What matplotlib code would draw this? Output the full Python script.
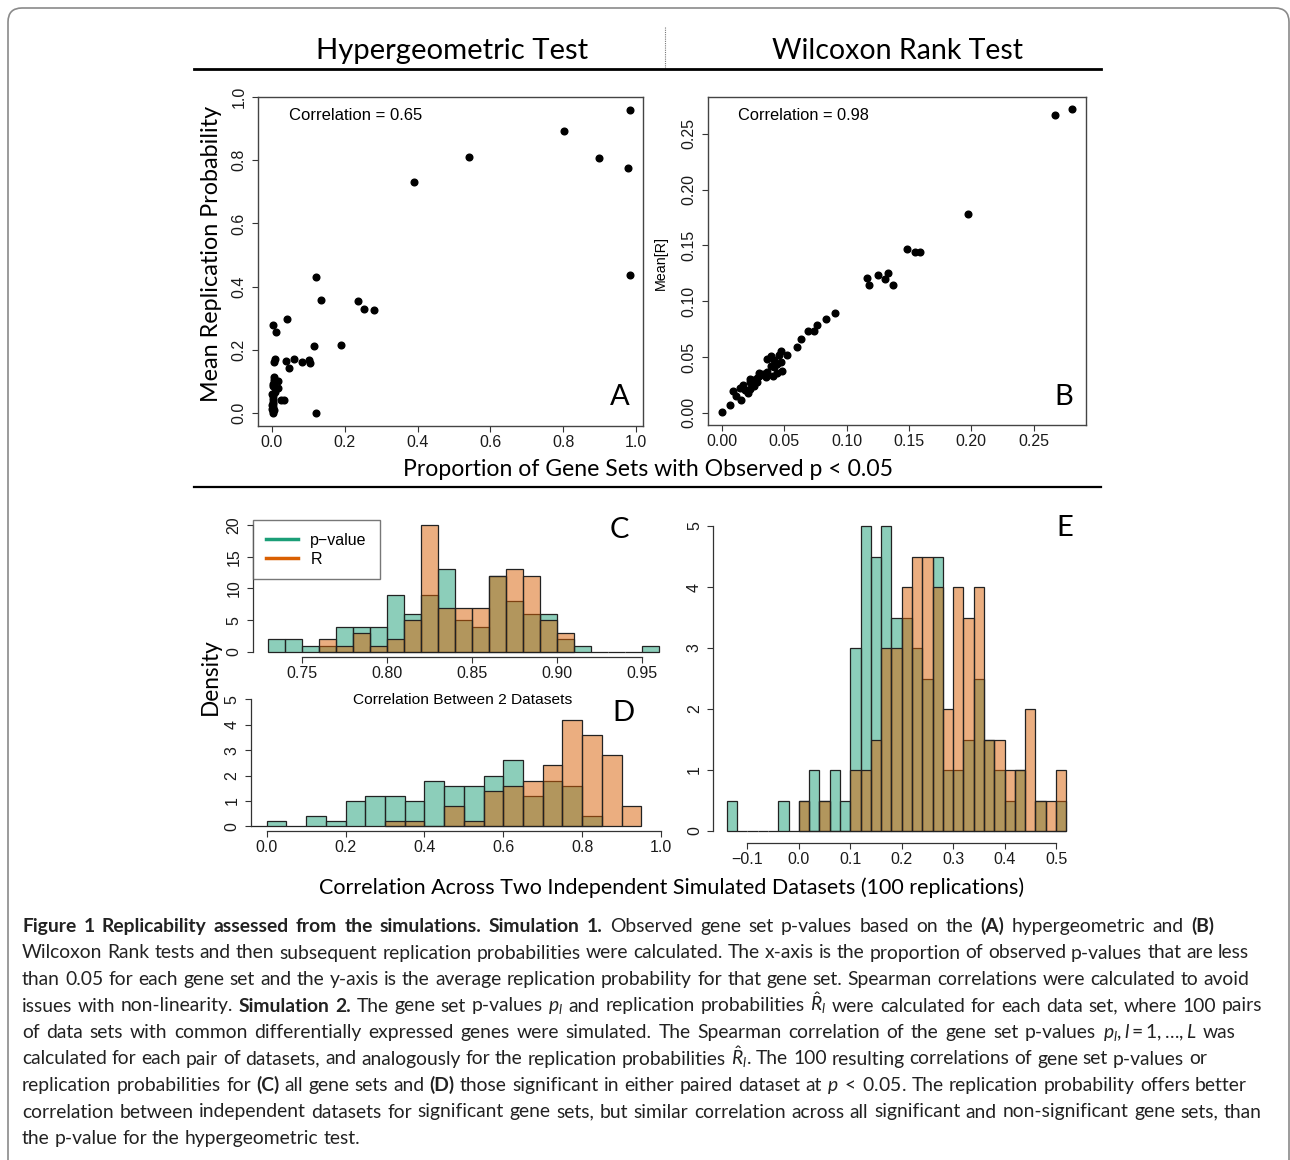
import matplotlib
matplotlib.use('Agg')
import matplotlib.pyplot as plt
import numpy as np
from matplotlib.patches import FancyBboxPatch
from matplotlib.lines import Line2D
from matplotlib.transforms import IdentityTransform

plt.rcParams['font.family'] = ['Liberation Sans', 'DejaVu Sans']
plt.rcParams['mathtext.fontset'] = 'custom'
plt.rcParams['mathtext.rm'] = 'Lato'
plt.rcParams['mathtext.it'] = 'Lato:italic'
plt.rcParams['mathtext.bf'] = 'Lato:bold'

# ---------------- data ----------------
# A: hypergeometric test, proportion p<0.05 vs mean replication probability
hyp_prop = [0.982, 0.803, 0.542, 0.899, 0.979, 0.389, 0.982, 0.120, 0.136, 0.236,
            0.252, 0.280, 0.042, 0.004, 0.012, 0.190, 0.117, 0.009, 0.006, 0.038,
            0.061, 0.083, 0.103, 0.105, 0.046, 0.006, 0.016, 0.002, 0.017, 0.008,
            0.033, 0.024, 0.002, 0.002, 0.002, 0.002, 0.005, 0.004, 0.121, 0.000,
            0.003, 0.001, 0.004, 0.000, 0.002, 0.007]
hyp_rep = [0.960, 0.894, 0.809, 0.808, 0.775, 0.732, 0.436, 0.429, 0.358, 0.356,
           0.330, 0.327, 0.296, 0.277, 0.257, 0.214, 0.211, 0.170, 0.162, 0.165,
           0.170, 0.160, 0.167, 0.157, 0.143, 0.115, 0.100, 0.092, 0.079, 0.066,
           0.041, 0.040, 0.055, 0.035, 0.019, 0.005, 0.010, 0.000, 0.000, 0.025,
           0.045, 0.060, 0.085, 0.012, 0.030, 0.105]

# B: Wilcoxon rank test
wil_prop = [0.281, 0.267, 0.197, 0.148, 0.155, 0.159, 0.116, 0.118, 0.125, 0.131,
            0.133, 0.137, 0.091, 0.083, 0.076, 0.074, 0.069, 0.063, 0.060, 0.052,
            0.047, 0.046, 0.039, 0.036, 0.042, 0.044, 0.047, 0.039, 0.042, 0.048,
            0.044, 0.041, 0.036, 0.033, 0.030, 0.028, 0.025, 0.022, 0.022, 0.024,
            0.022, 0.021, 0.017, 0.014, 0.009, 0.011, 0.015, 0.006, 0.000, 0.030,
            0.028, 0.035, 0.018, 0.026]
wil_rep = [0.2725, 0.2665, 0.178, 0.1464, 0.1443, 0.1443, 0.1204, 0.1141, 0.1237, 0.1198,
           0.1254, 0.1141, 0.0892, 0.0844, 0.0784, 0.0734, 0.0734, 0.0665, 0.0593, 0.0515,
           0.0554, 0.0518, 0.0509, 0.0479, 0.0473, 0.0440, 0.0455, 0.0419, 0.0407, 0.0374,
           0.0353, 0.0332, 0.0365, 0.0347, 0.0332, 0.0314, 0.0293, 0.0278, 0.0302, 0.0249,
           0.0210, 0.0174, 0.0249, 0.0219, 0.0195, 0.0150, 0.0114, 0.0069, 0.0003, 0.0353,
           0.0278, 0.0323, 0.0204, 0.0240]

# C: correlation between 2 datasets, all gene sets (density, bin width 0.01)
c_start_p, c_start_r, c_width = 0.73, 0.76, 0.01
c_pval = [2, 2, 1, 1, 4, 4, 4, 9, 6, 9, 13, 5, 4, 12, 8, 6, 6, 2, 1, 0, 0, 0, 1]
c_rep = [2, 1, 3, 1, 2, 5, 20, 7, 7, 7, 12, 13, 12, 5, 3]

# D: significant gene sets only (bin width 0.05)
d_start_p, d_start_r, d_width = -0.05, 0.30, 0.05
d_pval = [0, 0.2, 0, 0.4, 0.2, 1.0, 1.2, 1.2, 1.0, 1.8, 1.6, 1.6, 2.0, 2.6, 1.2, 1.8, 1.6, 0.4]
d_rep = [0.2, 0.2, 0, 0.8, 0.2, 1.4, 1.6, 1.8, 2.4, 4.2, 3.6, 2.8, 0.8]

# E: correlation across simulated datasets (bin width 0.02)
e_start_p, e_start_r, e_width = -0.14, 0.00, 0.02
e_pval = [0.5, 0, 0, 0, 0, 0.5, 0, 0.5, 1.0, 0.5, 1.0, 0.5, 3.0, 5.0, 4.5, 5.0, 3.5,
          3.5, 3.0, 2.5, 4.5, 1.0, 1.0, 1.5, 2.5, 1.5, 1.0, 0.5, 1.0, 0, 0.5, 0, 0.5]
e_rep = [0.5, 0, 0.5, 0, 0, 1.0, 1.0, 1.5, 3.0, 3.0, 4.0, 4.5, 4.5, 4.0, 2.0, 4.0,
         3.5, 4.0, 1.5, 1.5, 1.0, 1.0, 2.0, 0.5, 0.5, 1.0]

GREEN = (27 / 255, 158 / 255, 119 / 255)
ORANGE = (217 / 255, 95 / 255, 2 / 255)

# ---------------- figure ----------------
W, H = 1290, 1160
fig = plt.figure(figsize=(W / 100, H / 100), dpi=100)
renderer = fig.canvas.get_renderer()


def px_axes(x0, y0, x1, y1):
    return fig.add_axes([x0 / W, 1 - y1 / H, (x1 - x0) / W, (y1 - y0) / H])


def text_px(x, y, s, **kw):
    return fig.text(x / W, 1 - y / H, s, **kw)


def fit_text(x, y, s, span, family='Lato', rotation=0, **kw):
    # size the text so that it covers the same span as in the original
    t = text_px(x, y, s, fontsize=10, family=family, rotation=rotation,
                ha='center', va='center', **kw)
    bb = t.get_window_extent(renderer)
    t.set_fontsize(10 * span / (bb.height if rotation else bb.width))
    return t


def r_ticks(ax, xt, xl, yt, yl):
    ax.set_xticks(xt, xl)
    ax.set_yticks(yt, yl)
    ax.tick_params(direction='out', length=4.2, width=0.8, color='#333',
                   labelsize=11.5, labelcolor='#1a1a1a')
    ax.tick_params(axis='x', pad=2)
    ax.tick_params(axis='y', pad=4)
    for lab in ax.get_yticklabels():
        lab.set_rotation(90)
        lab.set_va('center')


def r_hist(ax, start, width, vals, color):
    edges = start + width * np.arange(len(vals) + 1)
    ax.bar(edges[:-1], vals, width=width, align='edge', color=(*color, 0.5),
           edgecolor='#222', linewidth=0.9)


# outer frame
frame = FancyBboxPatch((8, -40), 1281, H - 8 + 40,
                       boxstyle='round,pad=0,rounding_size=14',
                       transform=IdentityTransform(), fc='none', ec='#8a8a8a', lw=1.2)
fig.add_artist(frame)

# header
fit_text(452, 51, 'Hypergeometric Test', 273)
fit_text(897, 51, 'Wilcoxon Rank Test', 251)
fig.add_artist(Line2D([665 / W, 665 / W], [1 - 27 / H, 1 - 68 / H], color='#777',
                      lw=0.8, linestyle=(0, (1, 1))))
for yy, lw in [(69, 2.0), (487, 1.6)]:
    fig.add_artist(Line2D([194 / W, 1101 / W], [1 - yy / H] * 2, color='black', lw=lw))

# ---- panel A ----
axA = px_axes(258, 97, 643, 426)
axA.plot(hyp_prop, hyp_rep, 'o', color='black', ms=4.8)
axA.set_xlim(-0.038, 1.019)
axA.set_ylim(-0.041, 0.997)
for s in axA.spines.values():
    s.set_color('#444')
    s.set_linewidth(1.0)
ab_ticks = [0.0, 0.2, 0.4, 0.6, 0.8, 1.0]
r_ticks(axA, ab_ticks, [f'{v:.1f}' for v in ab_ticks], ab_ticks, [f'{v:.1f}' for v in ab_ticks])
fit_text(355.5, 116, 'Correlation = 0.65', 133, family='Liberation Sans')

# ---- panel B ----
axB = px_axes(708, 97, 1086, 425)
axB.plot(wil_prop, wil_rep, 'o', color='black', ms=4.8)
axB.set_xlim(-0.0113, 0.292)
axB.set_ylim(-0.011, 0.283)
for s in axB.spines.values():
    s.set_color('#444')
    s.set_linewidth(1.0)
b_ticks = [0.0, 0.05, 0.10, 0.15, 0.20, 0.25]
r_ticks(axB, b_ticks, [f'{v:.2f}' for v in b_ticks], b_ticks, [f'{v:.2f}' for v in b_ticks])
fit_text(803.5, 116, 'Correlation = 0.98', 131, family='Liberation Sans')
fit_text(661, 263, 'Mean[R]', 54, family='Liberation Sans', rotation=90)

fit_text(211, 254, 'Mean Replication Probability', 297, rotation=90)
fit_text(648, 469, 'Proportion of Gene Sets with Observed p < 0.05', 490)


def open_axes(ax, xb, yb):
    for side in ['top', 'right']:
        ax.spines[side].set_visible(False)
    for side in ['left', 'bottom']:
        ax.spines[side].set_color('#333')
        ax.spines[side].set_linewidth(0.9)
    ax.spines['bottom'].set_bounds(*xb)
    ax.spines['left'].set_bounds(*yb)
    ax.patch.set_alpha(0)


# ---- panel C ----
axC = px_axes(252.8, 519.9, 674.3, 657.1)
r_hist(axC, c_start_p, c_width, c_pval, GREEN)
r_hist(axC, c_start_r, c_width, c_rep, ORANGE)
axC.set_xlim(0.7208, 0.9692)
axC.set_ylim(-0.8, 20.8)
open_axes(axC, (0.75, 0.95), (0, 20))
c_xt = [0.75, 0.80, 0.85, 0.90, 0.95]
c_yt = [0, 5, 10, 15, 20]
r_ticks(axC, c_xt, [f'{v:.2f}' for v in c_xt], c_yt, [str(v) for v in c_yt])
leg = axC.legend([Line2D([], [], color=GREEN, lw=2.5), Line2D([], [], color=ORANGE, lw=2.5)],
                 ['p\u2212value', 'R'], loc='upper left', bbox_to_anchor=(0, 1),
                 borderaxespad=0, fancybox=False, fontsize=11.5, handlelength=2.0,
                 handletextpad=0.8, borderpad=0.8, labelspacing=0.25)
leg.get_frame().set_edgecolor('#555')
leg.get_frame().set_linewidth(1.0)
fit_text(463, 700, 'Correlation Between 2 Datasets', 219, family='Liberation Sans')

# ---- panel D ----
axD = px_axes(250.9, 694.2, 676.8, 831.4)
r_hist(axD, d_start_p, d_width, d_pval, GREEN)
r_hist(axD, d_start_r, d_width, d_rep, ORANGE)
axD.set_xlim(-0.04, 1.04)
axD.set_ylim(-0.2, 5.2)
open_axes(axD, (0, 1), (0, 5))
d_xt = [0.0, 0.2, 0.4, 0.6, 0.8, 1.0]
d_yt = [0, 1, 2, 3, 4, 5]
r_ticks(axD, d_xt, [f'{v:.1f}' for v in d_xt], d_yt, [str(v) for v in d_yt])

fit_text(210, 677, 'Density', 77, rotation=90)

# ---- panel E ----
axE = px_axes(713.3, 513.8, 1079.9, 843.2)
r_hist(axE, e_start_p, e_width, e_pval, GREEN)
r_hist(axE, e_start_r, e_width, e_rep, ORANGE)
axE.set_xlim(-0.1664, 0.5464)
axE.set_ylim(-0.2, 5.2)
open_axes(axE, (-0.1, 0.5), (0, 5))
e_xt = [-0.1, 0.0, 0.1, 0.2, 0.3, 0.4, 0.5]
e_yt = [0, 1, 2, 3, 4, 5]
r_ticks(axE, e_xt, [f'{v:.1f}'.replace('-', '\u2212') for v in e_xt], e_yt, [str(v) for v in e_yt])

fit_text(672, 888, 'Correlation Across Two Independent Simulated Datasets (100 replications)', 706)

# panel letters
for letter, x, y in [('A', 620, 397), ('B', 1064, 397), ('C', 619, 530),
                     ('D', 623, 713), ('E', 1065, 528)]:
    text_px(x, y, letter, family='Lato', fontsize=21, ha='center', va='center')

# ---------------- caption ----------------
cap_lines = [
    [("Figure 1 Replicability assessed from the simulations. Simulation 1.", 'b'),
     (" Observed gene set p-values based on the ", 'r'), ("(A)", 'b'),
     (" hypergeometric and ", 'r'), ("(B)", 'b')],
    [("Wilcoxon Rank tests and then subsequent replication probabilities were calculated. "
      "The x-axis is the proportion of observed p-values that are less", 'r')],
    [("than 0.05 for each gene set and the y-axis is the average replication probability "
      "for that gene set. Spearman correlations were calculated to avoid", 'r')],
    [("issues with non-linearity. ", 'r'), ("Simulation 2.", 'b'),
     (" The gene set p-values ", 'r'), (r"$p_l$", 'm'),
     (" and replication probabilities ", 'r'), (r"$\hat{R}_l$", 'm'),
     (" were calculated for each data set, where 100 pairs", 'r')],
    [("of data sets with common differentially expressed genes were simulated. The Spearman "
      "correlation of the gene set p-values ", 'r'), (r"$p_l, l = 1, \ldots, L$", 'm'),
     (" was", 'r')],
    [("calculated for each pair of datasets, and analogously for the replication "
      "probabilities ", 'r'), (r"$\hat{R}_l$", 'm'),
     (". The 100 resulting correlations of gene set p-values or", 'r')],
    [("replication probabilities for ", 'r'), ("(C)", 'b'), (" all gene sets and ", 'r'),
     ("(D)", 'b'), (" those significant in either paired dataset at ", 'r'),
     (r"$p\;<\;0.05$", 'm'), (". The replication probability offers better", 'r')],
    [("correlation between independent datasets for significant gene sets, but similar "
      "correlation across all significant and non-significant gene sets, than", 'r')],
    [("the p-value for the hypergeometric test.", 'r')],
]
# right end of each caption line in the original (None = natural width)
cap_ends = [1235, 1249, 1249, 1262, 1236, 1207, 1247, 1262, None]

probe = text_px(0, 0, cap_lines[1][0][0], fontsize=10, family='Lato')
cap_size = 10 * 1227 / probe.get_window_extent(renderer).width
probe.remove()


def str_width(s, weight):
    t = text_px(0, 0, s, fontsize=cap_size, family='Lato', fontweight=weight)
    w = t.get_window_extent(renderer).width
    t.remove()
    return w


space = {'r': str_width('n n', 'normal') - str_width('nn', 'normal'),
         'b': str_width('n n', 'bold') - str_width('nn', 'bold')}
space['m'] = space['r']


def draw_line(x, y, runs, end):
    # split the runs into words, then spread the spaces a little toward the original line end
    tokens = []
    pending = False
    for s, kind in runs:
        if kind == 'm':
            tokens.append((s, kind, pending))
            pending = False
            continue
        for j, piece in enumerate(s.split(' ')):
            if j > 0:
                pending = True
            if piece:
                tokens.append((piece, kind, pending))
                pending = False
    arts = []
    for word, kind, sp in tokens:
        t = text_px(0, y, word, fontsize=cap_size, family='Lato',
                    fontweight='bold' if kind == 'b' else 'normal',
                    color='#222', ha='left', va='baseline')
        arts.append((t, t.get_window_extent(renderer).width, kind, sp))
    natural = sum(a[1] for a in arts) + sum(space[a[2]] for a in arts if a[3])
    gaps = sum(1 for a in arts if a[3])
    extra = 0.0
    if end is not None and gaps:
        extra = min(2.5, max(-1.0, (end - x - natural) / gaps))
    for t, w, kind, sp in arts:
        if sp:
            x += space[kind] + extra
        t.set_x(x / W)
        x += w


for i, runs in enumerate(cap_lines):
    draw_line(22, 932 + 26.5 * i, runs, cap_ends[i])

fig.savefig('out.png', dpi=100, facecolor='white')
